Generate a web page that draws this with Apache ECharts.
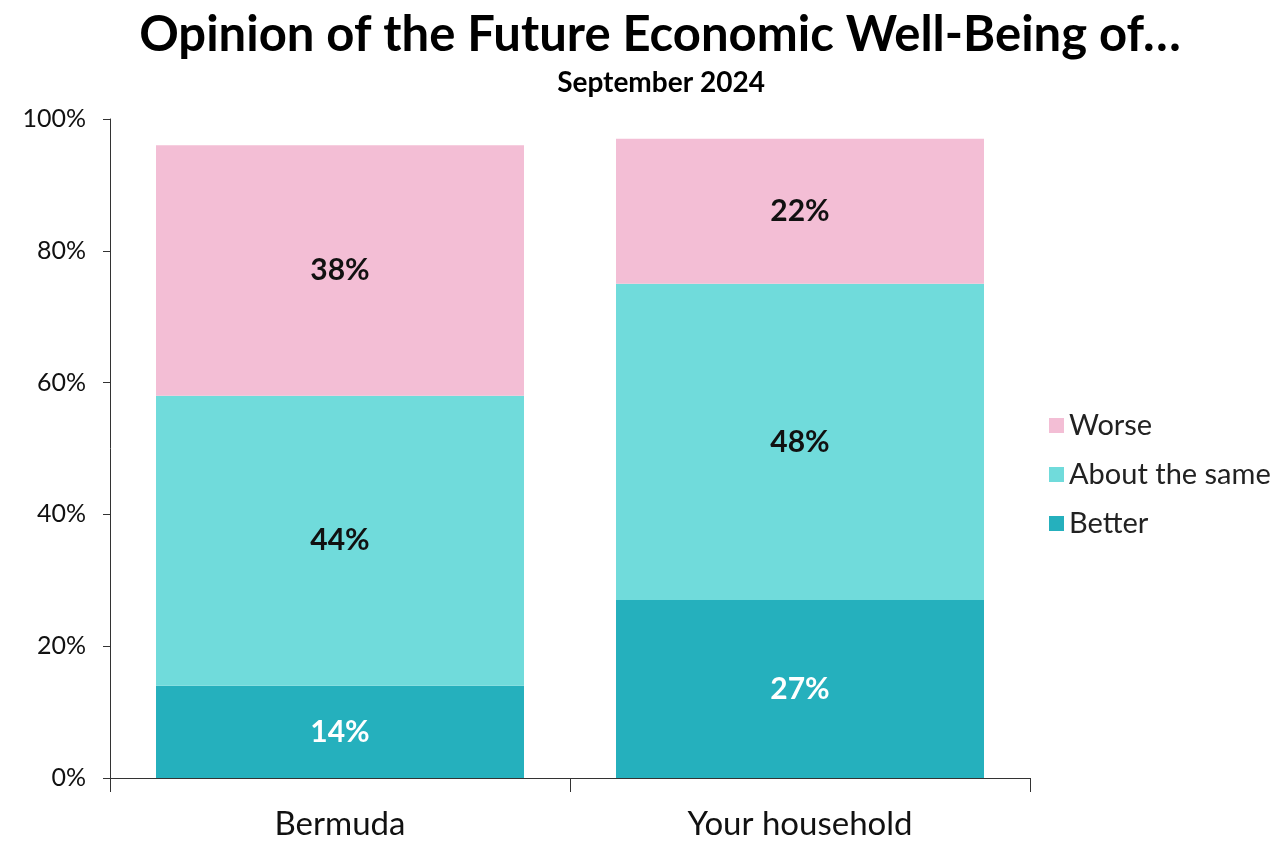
<!DOCTYPE html>
<html>
<head>
<meta charset="utf-8">
<script src="https://cdn.jsdelivr.net/npm/echarts@6/dist/echarts.min.js"></script>
<style>
html,body{margin:0;padding:0;background:#fff;}
#chart{width:1278px;height:841px;}
</style>
</head>
<body>
<div id="chart"></div>
<script>
const categories = ['Bermuda', 'Your household'];
const better = [14, 27];
const aboutSame = [44, 48];
const worse = [38, 22];
const yTicks = [0, 20, 40, 60, 80, 100];

const FONT = 'Lato';
const chart = echarts.init(document.getElementById('chart'));

function seriesDef(name, data, color, labelColor) {
  return {
    name: name,
    type: 'bar',
    stack: 'total',
    data: data,
    barCategoryGap: '20%',
    itemStyle: { color: color },
    label: {
      show: true,
      position: 'inside',
      formatter: '{c}%',
      color: labelColor,
      fontFamily: FONT,
      fontWeight: 'bold',
      fontSize: 30
    },
    emphasis: { disabled: true }
  };
}

chart.setOption({
  backgroundColor: '#ffffff',
  animation: false,
  title: [{
    text: 'Opinion of the Future Economic Well-Being of…',
    left: 655,
    textAlign: 'center',
    top: 6,
    textStyle: { fontFamily: FONT, fontWeight: 'bold', fontSize: 49, color: '#000' }
  }, {
    text: 'September 2024',
    left: 656,
    textAlign: 'center',
    top: 64,
    textStyle: { fontFamily: FONT, fontWeight: 'bold', fontSize: 28, color: '#000' }
  }],
  legend: {
    orient: 'vertical',
    left: 1044,
    top: 406,
    itemWidth: 15,
    itemHeight: 15,
    itemGap: 20,
    icon: 'rect',
    data: ['Worse', 'About the same', 'Better'],
    textStyle: { fontFamily: FONT, fontSize: 29, color: '#222' }
  },
  grid: { left: 110, right: 248, top: 119, bottom: 62, containLabel: false },
  xAxis: {
    type: 'category',
    data: categories,
    axisLine: { show: true, lineStyle: { color: '#333', width: 1 } },
    axisTick: { show: true, length: 14, lineStyle: { color: '#333' } },
    axisLabel: { fontFamily: FONT, fontSize: 33, color: '#111', margin: 30 }
  },
  yAxis: {
    type: 'value',
    min: yTicks[0],
    max: yTicks[yTicks.length - 1],
    interval: 20,
    axisLine: { show: true, lineStyle: { color: '#333', width: 1 } },
    axisTick: { show: true, length: 7, lineStyle: { color: '#333' } },
    splitLine: { show: false },
    axisLabel: { formatter: '{value}%', fontFamily: FONT, fontSize: 25, color: '#111', margin: 24 }
  },
  series: [
    seriesDef('Better', better, '#25B0BD', '#ffffff'),
    seriesDef('About the same', aboutSame, '#70DBDB', '#111'),
    seriesDef('Worse', worse, '#F3BED5', '#111')
  ]
});
</script>
</body>
</html>
